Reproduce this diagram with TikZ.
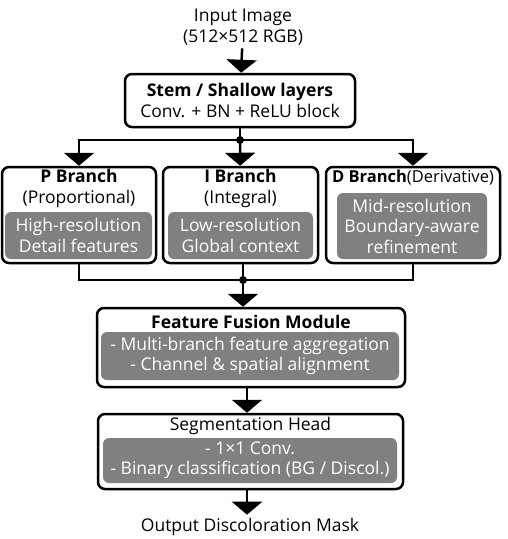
\documentclass[tikz,border=0pt]{standalone}
\usepackage{fontspec}
\setmainfont{Open Sans}
\usetikzlibrary{arrows.meta}

\definecolor{boxgray}{RGB}{128,128,128}
\tikzstyle{outer box}=[draw,line width=2.5pt,rounded corners=7pt,
    fill=white,inner sep=0pt,align=center]
\tikzstyle{inner box}=[fill=boxgray,rounded corners=6pt,
    inner sep=0pt,align=center,text=white]
\tikzstyle{flow}=[line width=2.5pt]
\tikzstyle{flow arrow}=[flow,-{Triangle[width=30pt,length=13pt]}]
\newcommand{\graybox}[4][]{
    \node[inner box,#1] at (#2) (#3) {#4};
}

\begin{document}
\begin{tikzpicture}[x=1pt,y=-1pt,font=\fontsize{17.5}{20.5}\selectfont]
    \useasboundingbox (0,0) rectangle (507,539);
    \node[align=center] (input) at (243,27) {Input Image\\(512×512 RGB)};
    \node[outer box,minimum width=230pt,minimum height=53pt] (stem) at (240,100.5)
        {\textbf{Stem / Shallow layers}\\Conv. + BN + ReLU block};
    %
    % three branches
    \node[outer box,minimum width=154pt,minimum height=96pt] (pbranch) at (79,215) {};
    \node[outer box,minimum width=155pt,minimum height=96pt] (ibranch) at (240.5,215) {};
    \node[outer box,minimum width=174pt,minimum height=96pt] (dbranch) at (413,215) {};
    \node[align=center] (ptitle) at (79,188.5) {\textbf{P Branch}\\(Proportional)};
    \node[align=center] (ititle) at (240.5,188.5) {\textbf{I Branch}\\(Integral)};
    \node[font=\fontsize{16.5}{20.5}\selectfont] (dtitle) at (413,178)
        {\textbf{D Branch}(Derivative)};
    \graybox[minimum width=147pt,minimum height=47pt]{78.5,235.5}{pfeat}
        {High-resolution\\Detail features}
    \graybox[minimum width=145pt,minimum height=47pt]{240.5,235.5}{ifeat}
        {Low-resolution\\Global context}
    \graybox[minimum width=150pt,minimum height=66pt]{412,226}{dfeat}
        {Mid-resolution\\Boundary-aware\\refinement}
    %
    % fusion and head
    \node[outer box,minimum width=308pt,minimum height=79pt] (fusion) at (251,347.5) {};
    \node (fusiontitle) at (251,322) {\textbf{Feature Fusion Module}};
    \graybox[minimum width=298pt,minimum height=48pt]{250,356}{fusionfeat}
        {- Multi-branch feature aggregation\\- Channel \& spatial alignment}
    \node[outer box,minimum width=305pt,minimum height=75pt] (head) at (250.5,451.5) {};
    \node (headtitle) at (250.5,426) {Segmentation Head};
    \graybox[minimum width=294pt,minimum height=45pt]{250,460.5}{headfeat}
        {- 1×1 Conv.\\- Binary classification (BG / Discol.)}
    \node (output) at (250,527) {Output Discoloration Mask};
    %
    \coordinate (split) at (240,140);
    \coordinate (merge) at (243,280);
    \draw[flow arrow] (input) -- (stem);
    \draw[flow] (stem) -- (split);
    \draw[flow arrow] (split) -| (pbranch);
    \draw[flow arrow] (split) -- (ibranch);
    \draw[flow arrow] (split) -| (dbranch);
    \fill (split) circle (4pt);
    \draw[flow] (pbranch.south) |- (merge) -| (dbranch.south);
    \draw[flow] (ibranch.south -| merge) -- (merge);
    \fill (merge) circle (4pt);
    \draw[flow arrow] (merge) -- (merge |- fusion.north);
    \draw[flow arrow] (fusion.south -| 247,0) -- (head.north -| 247,0);
    \draw[flow arrow] (head.south -| 247,0) -- (output.north -| 247,0);
\end{tikzpicture}
\end{document}
